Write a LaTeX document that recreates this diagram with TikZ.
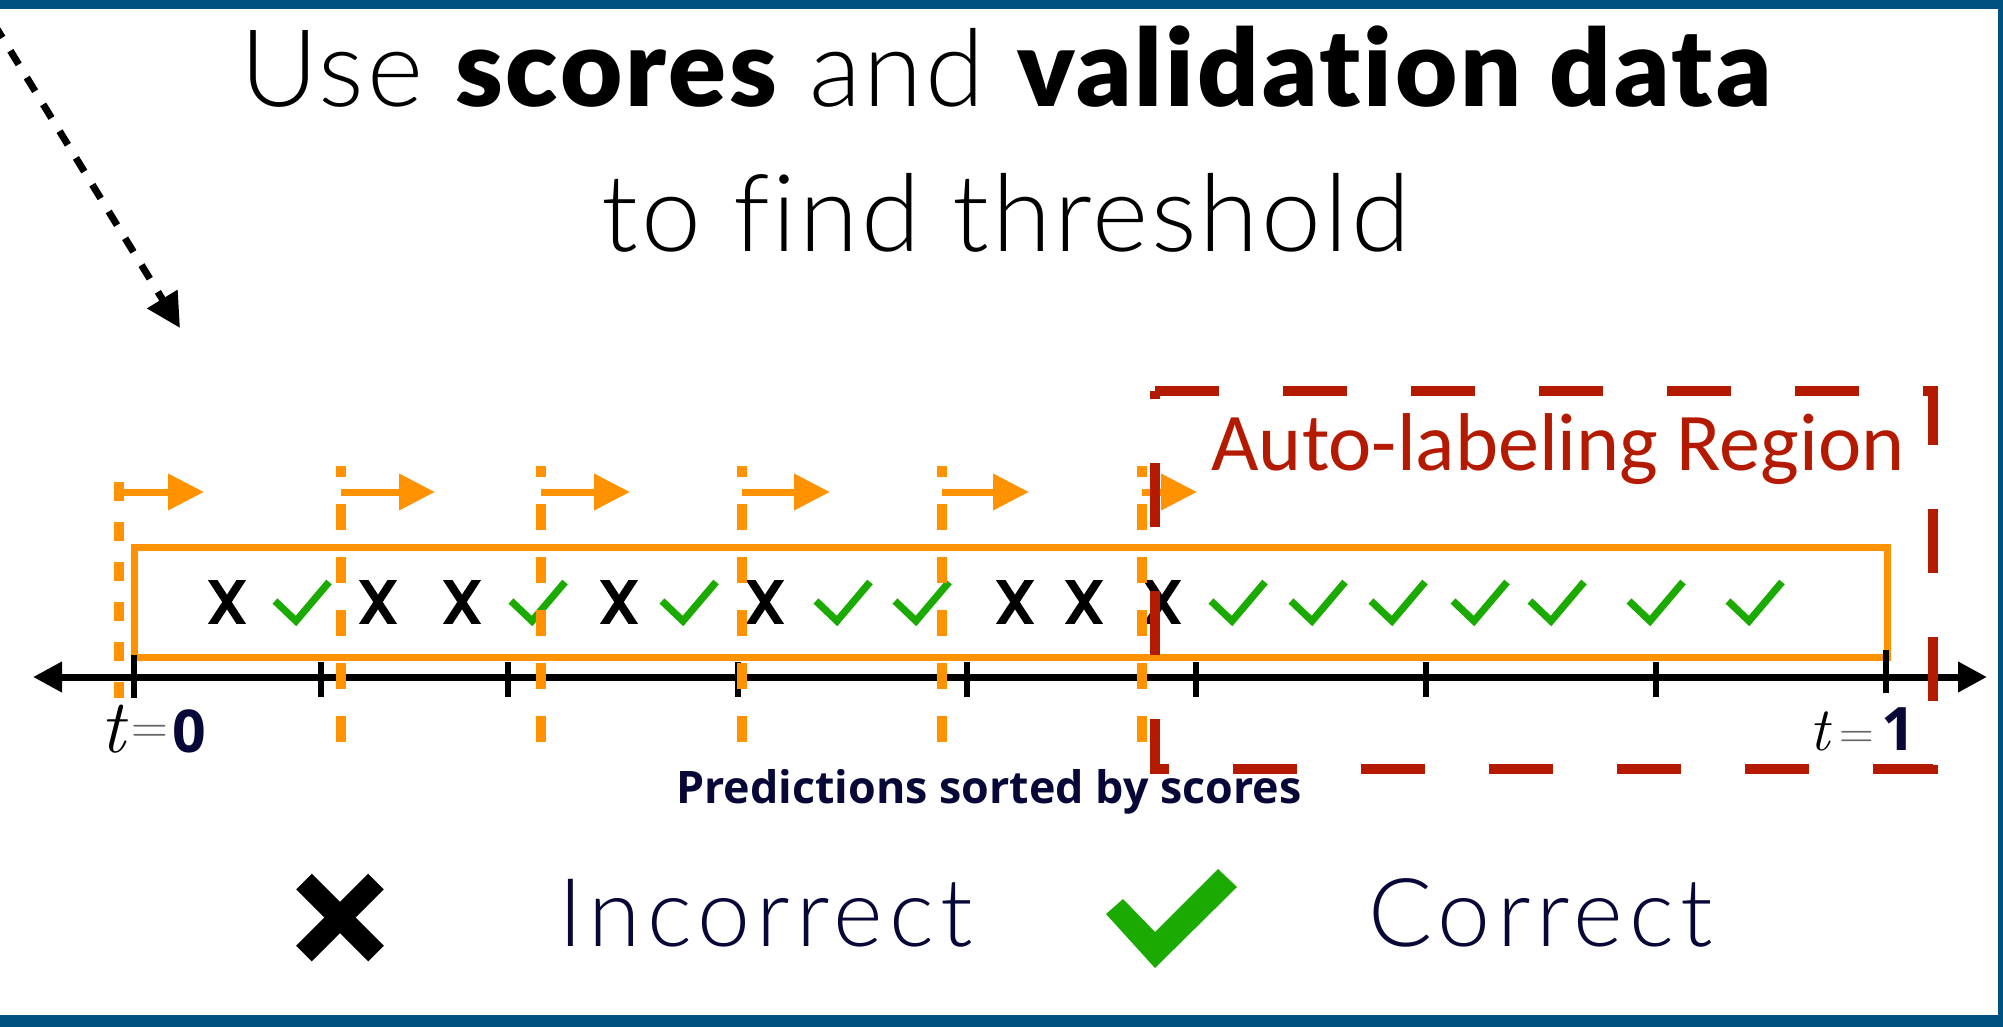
\documentclass[tikz,border=0pt]{standalone}
\usepackage{fontspec}
\usetikzlibrary{arrows.meta}
\newfontfamily\ttl{Lato Light}[Ligatures=NoCommon, LetterSpace=2.7]
\newfontfamily\ttb{Lato Black}[Ligatures=NoCommon, LetterSpace=2.7]
\newfontfamily\legfont{Lato Light}[Ligatures=NoCommon, LetterSpace=6.5]
\newfontfamily\carl{Carlito}
\newfontfamily\osans{Open Sans}

\definecolor{frameblue}{RGB}{0,80,128}
\definecolor{thrOrange}{RGB}{255,146,0}
\definecolor{autoRed}{RGB}{180,26,0}
\definecolor{okGreen}{RGB}{26,170,0}
\definecolor{navy}{RGB}{8,8,56}

\tikzset{
  xm/.pic={
    \begin{scope}
      \clip (-25,-21.5) rectangle (25,21.5);
      \draw[line width=4pt] (-16.8,-25.8) -- (16.8,25.8) (16.8,-25.8) -- (-16.8,25.8);
    \end{scope}
  },
  cm/.pic={
    \draw[okGreen, line width=3.6pt, line join=miter] (-27,-1) -- (-6,19) -- (27,-20);
  },
  thrline/.style={thrOrange, line width=5pt, dash pattern=on 13pt off 13.5pt, dash phase=7.5pt},
  thrarrow/.style={thrOrange, line width=3.5pt, -{Triangle[length=18pt,width=17.5pt]}},
  tickmark/.style={black, line width=3pt},
  titlefont/.style={font=\fontsize{53.7pt}{60pt}\selectfont\ttl, inner sep=0pt, anchor=base},
  legendfont/.style={font=\fontsize{47.5pt}{52pt}\selectfont\legfont, text=navy, inner sep=0pt, anchor=base west},
  tvar/.style={inner sep=0pt, anchor=base},
  teq/.style={inner sep=0pt, anchor=base, text=black!60},
  tval/.style={inner sep=0pt, anchor=base, text=navy},
}

\begin{document}
\begin{tikzpicture}[x=0.5pt,y=-0.5pt]
% page and frame
\fill[white] (0,0) rectangle (2003,1027);
\useasboundingbox (0,0) rectangle (2003,1027);
\fill[frameblue] (0,0) rectangle (2003,9);
\fill[frameblue] (0,1015) rectangle (2003,1027);
\fill[frameblue] (1998,0) rectangle (2003,1027);

% title
\node[titlefont] (title1) at (1006,107) {Use {\ttb scores} and {\ttb validation data}};
\node[titlefont] (title2) at (1006,252) {to find threshold};

% dotted pointer arrow from the upper left
\coordinate (ptrStart) at (-6,24);
\coordinate (ptrEnd) at (180,328);
\begin{scope}
  \clip (0,9) rectangle (400,400);
  \draw[line width=3.5pt, dash pattern=on 8pt off 7.7pt, -{Triangle[length=17pt,width=17pt]}] (ptrStart) -- (ptrEnd);
\end{scope}

% box holding the sorted predictions
\draw[thrOrange, line width=3.5pt] (134,547) rectangle (1887,657);

% score axis
\coordinate (axL) at (33,677);
\coordinate (axR) at (1987,677);
\draw[line width=3.5pt, {Triangle[length=14.5pt,width=14.5pt]}-{Triangle[length=14.5pt,width=14.5pt]}] (axL) -- (axR);
\draw[tickmark] (134,655) -- (134,698);
\foreach \x in {321,508,738,967,1196,1426,1656} \draw[tickmark] (\x,662) -- (\x,697);
\draw[tickmark] (1886,650) -- (1886,693);

% predictions, sorted by score
\foreach \x in {227,378,462,619,765,1015,1084,1162} \pic at (\x,602) {xm};
\foreach \x in {302,538,689,843,922,1238,1318,1398,1480,1557,1656,1755} \pic at (\x,602) {cm};

% axis end labels
\node[tvar, font=\fontsize{38pt}{40pt}\selectfont\itshape] (t0t) at (112.5,752) {t};
\node[teq, font=\fontsize{25.5pt}{27pt}\selectfont] (t0eq) at (150,743) {=};
\node[tval, font=\fontsize{29.5pt}{32pt}\selectfont\osans\bfseries] (t0v) at (189,752) {0};
\node[tvar, font=\fontsize{31pt}{33pt}\selectfont\itshape] (t1t) at (1820,750) {t};
\node[teq, font=\fontsize{24pt}{26pt}\selectfont] (t1eq) at (1857,748) {=};
\node[tval, font=\fontsize{30pt}{32pt}\selectfont\osans\bfseries] (t1v) at (1899,750) {1};

\node[inner sep=0pt, anchor=base, font=\fontsize{22.4pt}{24pt}\selectfont\osans\bfseries, text=navy] (axlabel) at (989,803) {Predictions sorted by scores};

% candidate thresholds
\draw[thrOrange, line width=5pt, dash pattern=on 9.5pt off 10.5pt] (119,482) -- (119,698);
\foreach \x in {341,541,742,942,1142} \draw[thrline] (\x,466) -- (\x,743);
\coordinate (a0) at (119,492); \coordinate (b0) at (204,492);
\coordinate (a1) at (341,492); \coordinate (b1) at (435,492);
\coordinate (a2) at (541,492); \coordinate (b2) at (630,492);
\coordinate (a3) at (742,492); \coordinate (b3) at (830,492);
\coordinate (a4) at (942,492); \coordinate (b4) at (1029,492);
\coordinate (a5) at (1142,492); \coordinate (b5) at (1197,492);
\foreach \i in {0,...,5} \draw[thrarrow] (a\i) -- (b\i);

% auto-labeling region
\coordinate (rTL) at (1155,391);
\coordinate (rTR) at (1933,391);
\coordinate (rBR) at (1933,769);
\coordinate (rBL) at (1155,769);
\draw[autoRed, line width=4.75pt, dash pattern=on 32pt off 32pt] (rTL) -- (rTR) -- (rBR) -- (rBL) -- cycle;
\node[inner sep=0pt, anchor=base, font=\fontsize{41pt}{44pt}\selectfont\carl, text=autoRed] (autolab) at (1558,470) {Auto-labeling Region};

% legend
\draw[line width=11pt] (304,881.5) -- (376,953.5) (376,881.5) -- (304,953.5);
\node[legendfont] (incorrect) at (558,946) {Incorrect};
\fill[okGreen] (1106,914) -- (1123,899) -- (1155,932) -- (1218,869) -- (1237,887) -- (1155,968) -- cycle;
\node[legendfont] (correct) at (1368,946) {Correct};
\end{tikzpicture}
\end{document}
